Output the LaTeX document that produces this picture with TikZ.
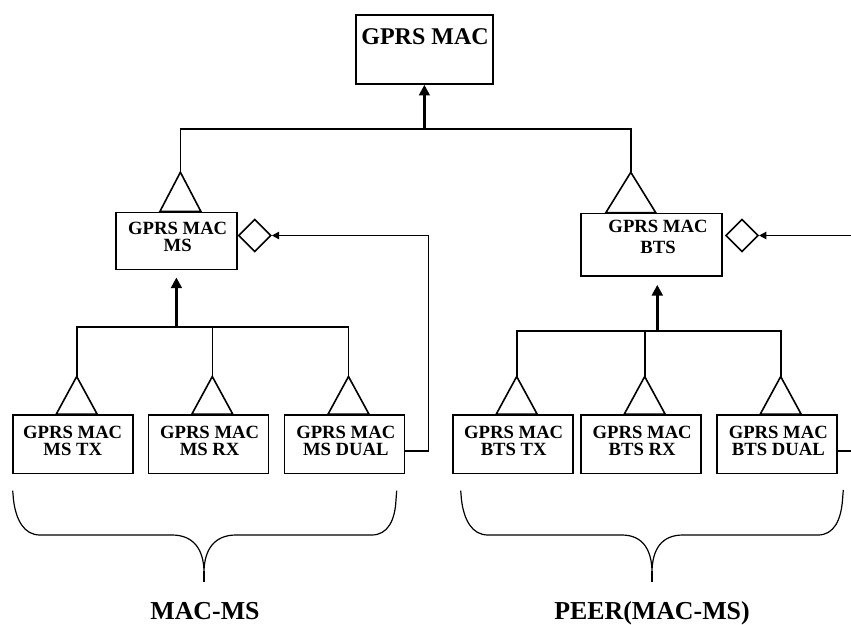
\documentclass[tikz,border=0pt]{standalone}
\usepackage{fontspec}
\setmainfont{Liberation Serif}
\usetikzlibrary{arrows.meta,shapes.geometric,calc}

\begin{document}
\begin{tikzpicture}[x=0.75pt,y=-0.75pt,
  box/.style={draw,rectangle,line width=1.2pt,inner sep=0pt},
  leaf/.style={box,minimum width=90pt,minimum height=43.75pt},
  boxtext/.style={font=\bfseries\fontsize{14}{12.6}\selectfont,align=center,inner sep=0pt,anchor=north},
  link/.style={line width=1.2pt},
  gen/.style={line width=1.2pt,line join=miter},
  up/.style={line width=1.9pt,-{Triangle[width=8pt,length=8pt]}},
  agg/.style={line width=1.2pt,-{Triangle[width=5.5pt,length=5.5pt]}},
  aggmark/.style={draw,diamond,line width=1.2pt,minimum width=24.5pt,minimum height=24.5pt,inner sep=0pt},
  brace/.style={line width=0.9pt,line join=round},
  caption/.style={font=\bfseries\fontsize{19.4}{22}\selectfont,anchor=base,inner sep=0pt}
]
\useasboundingbox (0,0) rectangle (851,625);

% ---- classes ----
\node[box,minimum width=102.5pt,minimum height=51.75pt] (mac) at (424.4,49.5) {};
\node[font=\bfseries\fontsize{18}{20}\selectfont,inner sep=0pt,anchor=north] (macT) at ($(mac.north)+(0.6,14)$) {GPRS MAC};

\node[box,minimum width=90.5pt,minimum height=42.75pt] (ms) at (176.4,240.8) {};
\node[boxtext,font=\bfseries\fontsize{14}{12.6}\selectfont] (msT) at ($(ms.north)+(1.3,10.3)$) {GPRS MAC\\MS};

\node[box,minimum width=105.75pt,minimum height=47pt] (bts) at (651.2,244.7) {};
\node[boxtext,font=\bfseries\fontsize{14}{16}\selectfont] (btsT) at ($(bts.north)+(6.8,7)$) {GPRS MAC\\BTS};

\node[leaf] (mstx)    at (72.7,444.2)  {};
\node[leaf] (msrx)    at (208.3,444.2) {};
\node[leaf] (msdual)  at (344.5,444.2) {};
\node[leaf] (btstx)   at (512.7,444.2) {};
\node[leaf] (btsrx)   at (640.7,444.2) {};
\node[leaf] (btsdual) at (776.7,444.2) {};

\node[boxtext] (mstxT)    at ($(mstx.north)+(0,11.5)$)      {GPRS MAC\\MS TX};
\node[boxtext] (msrxT)    at ($(msrx.north)+(1.3,11.5)$)    {GPRS MAC\\MS RX};
\node[boxtext] (msdualT)  at ($(msdual.north)+(1.3,11.5)$)  {GPRS MAC\\MS DUAL};
\node[boxtext] (btstxT)   at ($(btstx.north)+(1,11.5)$)     {GPRS MAC\\BTS TX};
\node[boxtext] (btsrxT)   at ($(btsrx.north)+(1.5,11.5)$)   {GPRS MAC\\BTS RX};
\node[boxtext] (btsdualT) at ($(btsdual.north)+(1.6,11.5)$) {GPRS MAC\\BTS DUAL};

% ---- aggregation diamonds ----
\node[aggmark,anchor=west] (dMS)  at ($(ms.east)+(0,-5.3)$)  {};
\node[aggmark,anchor=west] (dBTS) at ($(bts.east)+(2.3,-9.2)$) {};

% ---- generalization triangles (apex points) ----
\coordinate (aMS)  at ($(ms.north)+(4,-39.3)$);
\coordinate (aBTS) at ($(bts.north)+(-20.4,-40.3)$);
\draw[gen] (aMS)  -- ++(-20.5,39.3) -- ++(41,0) -- cycle;
\draw[gen] (aBTS) -- ++(-24.9,40.3) -- ++(49.8,0) -- cycle;

\foreach \b in {mstx,msrx,msdual,btstx,btsrx,btsdual}{
  \coordinate (a\b) at ($(\b.north)+(4,-37.7)$);
  \draw[gen] (a\b) -- ++(-20.5,37.7) -- ++(41,0) -- cycle;
}

% ---- inheritance buses ----
\coordinate (busTop) at (425,129);
\draw[link] (aMS) -- (aMS |- busTop) -- (aBTS |- busTop) -- (aBTS);
\draw[up] (mac.south |- busTop) -- (mac.south);

\coordinate (busMS) at (176.7,327);
\draw[link] (amstx) -- (amstx |- busMS) -- (amsdual |- busMS) -- (amsdual);
\draw[link] (amsrx) -- (amsrx |- busMS);
\draw[up,shorten >=5.5pt] (ms.south |- busMS) -- (ms.south);

\coordinate (busBTS) at (657.3,331);
\coordinate (btsIn) at ($(bts.south)+(6.1,0)$);
\draw[link] (abtstx) -- (abtstx |- busBTS) -- (abtsdual |- busBTS) -- (abtsdual);
\draw[link] (abtsrx) -- (abtsrx |- busBTS);
\draw[up,shorten >=6pt] (btsIn |- busBTS) -- (btsIn);

% ---- aggregation links ----
\coordinate (msBack) at (428.3,235.5);
\draw[agg] ($(msdual.east)+(0,6.5)$) -| (msBack) -- (dMS.east);

\coordinate (edgeA) at (851,235.5);
\coordinate (edgeB) at (851,450.7);
\draw[agg] (edgeA) -- (dBTS.east);
\draw[link] ($(btsdual.east)+(0,6.5)$) -- (edgeB);

% ---- grouping braces ----
\draw[brace] (12.7,490.7) -- (13.5,500) .. controls (16,520) and (24,535) .. (40,535)
  -- (172,535) .. controls (194,535) and (203.5,550) .. (204,571)
  .. controls (204.5,550) and (214,535) .. (236,535)
  -- (371.7,535) .. controls (388,535) and (395,520) .. (396,500) -- (396.7,490.7);
\draw[brace] (204,571) -- (204,581.7);

\draw[brace] (460.7,490.7) -- (461.5,500) .. controls (464,520) and (472,535) .. (488,535)
  -- (621.7,535) .. controls (643,535) and (651.5,550) .. (652,571)
  .. controls (652.5,550) and (661,535) .. (683,535)
  -- (818,535) .. controls (834,535) and (841,520) .. (842.5,500) -- (843.3,490);
\draw[brace] (652,571) -- (652,581.7);

% ---- captions ----
\node[caption] (capMS)   at (205,619) {MAC-MS};
\node[caption] (capPeer) at (652,619) {PEER(MAC-MS)};
\end{tikzpicture}
\end{document}
